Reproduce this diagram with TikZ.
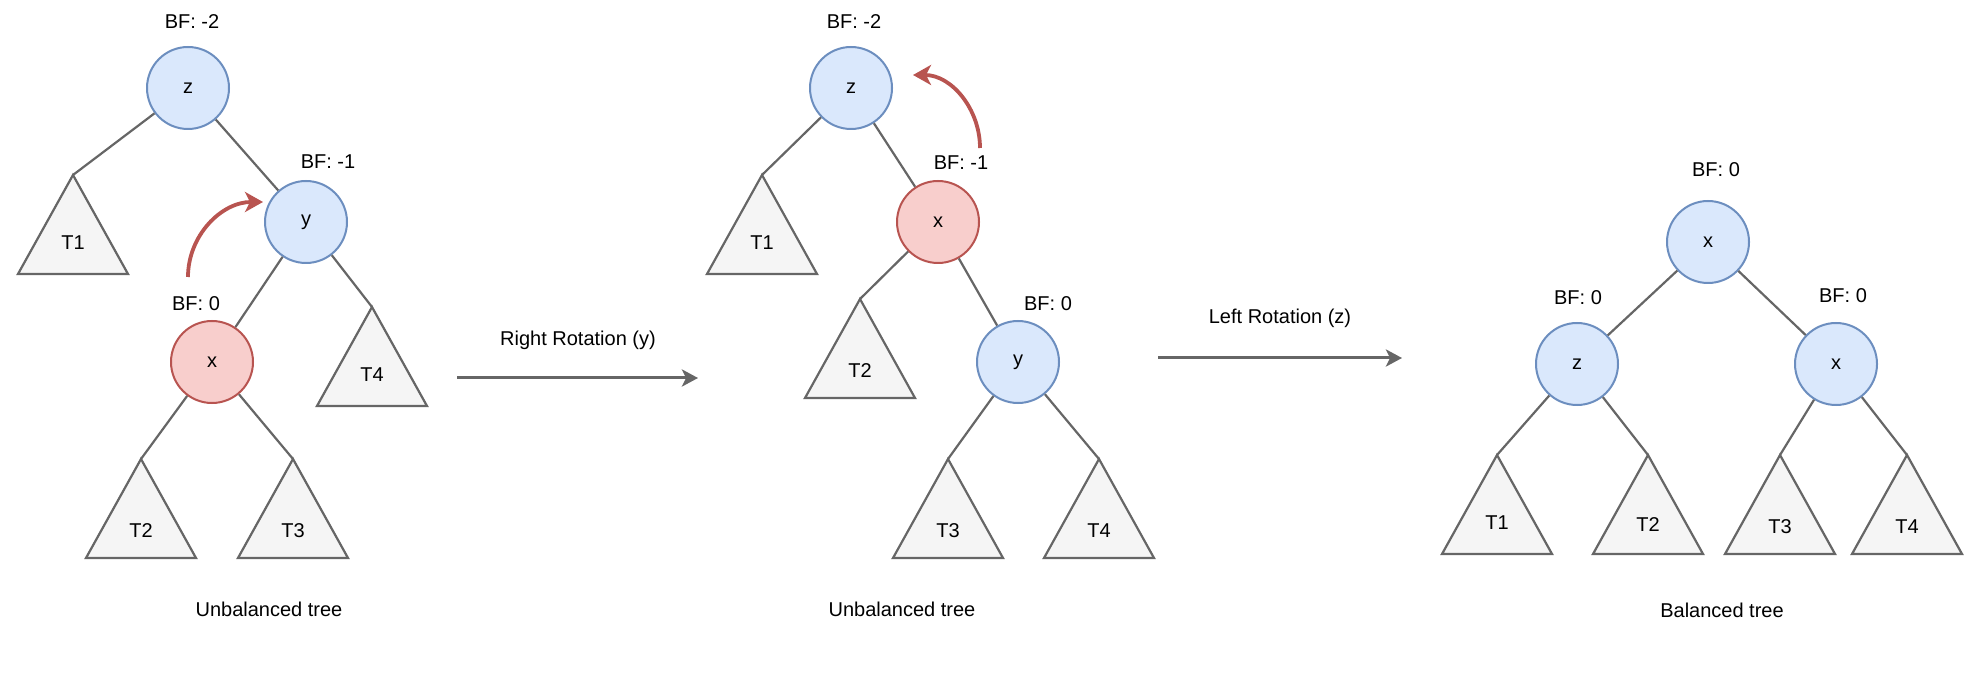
\documentclass[tikz,border=0pt]{standalone}
\usepackage{fontspec}
\setmainfont{Liberation Sans}
\usepackage{xcolor}
\usetikzlibrary{
    arrows.meta,
    calc,
    positioning
}

\definecolor{keyFill}{HTML}{DAE8FC}
\definecolor{keyLine}{HTML}{6C8EBF}
\definecolor{hotFill}{HTML}{F8CECC}
\definecolor{hotLine}{HTML}{B85450}
\definecolor{treeFill}{HTML}{F5F5F5}
\definecolor{treeLine}{HTML}{666666}

\tikzset{
    key/.style={circle, draw=keyLine, fill=keyFill, line width=1pt, minimum size=41pt, inner sep=0pt},
    hot/.style={key, draw=hotLine, fill=hotFill},
    branch/.style={draw=treeLine, line width=1.1pt},
    subtree/.style={draw=treeLine, fill=treeFill, line width=1.1pt},
    pivotarrow/.style={draw=hotLine, line width=1.9pt, -{Stealth[length=9pt, width=10pt, inset=2.5pt]}},
    rotarrow/.style={draw=treeLine, line width=1.5pt, -{Stealth[length=8pt, width=8.5pt, inset=2pt]}}
}

\begin{document}
\begin{tikzpicture}[x=0.5pt, y=-0.5pt, font=\fontsize{10}{12}\selectfont]
    \useasboundingbox (0, 0) rectangle (1980, 678);
    % unbalanced tree, before the right rotation
    \begin{scope}[shift={(188, 88)}]
        \node[key] (lz) at (0, 0) {z};
        \node (lzbf) at (4, -66) {BF: -2};
        \node[key] (ly) at (118, 134) {y};
        \node (lybf) at (140, 74) {BF: -1};
        \node[hot] (lx) at (24, 274) {x};
        \node (lxbf) at (8, 216) {BF: 0};
        \coordinate (lT1) at (-115, 87);
        \coordinate (lT4) at (184, 219);
        \coordinate (lT2) at (-47, 371);
        \coordinate (lT3) at (105, 371);
        \draw[subtree] (lT1) -- ++(55, 99) -- ++(-110, 0) -- cycle;
        \draw[subtree] (lT4) -- ++(55, 99) -- ++(-110, 0) -- cycle;
        \draw[subtree] (lT2) -- ++(55, 99) -- ++(-110, 0) -- cycle;
        \draw[subtree] (lT3) -- ++(55, 99) -- ++(-110, 0) -- cycle;
        \node (lT1text) at ([yshift=-34pt]lT1) {T1};
        \node (lT4text) at ([yshift=-34pt]lT4) {T4};
        \node (lT2text) at ([yshift=-36pt]lT2) {T2};
        \node (lT3text) at ([yshift=-36pt]lT3) {T3};
        \draw[branch]
        (lz) -- (lT1)
        (lz) -- (ly)
        (ly) -- (lx)
        (ly) -- (lT4)
        (lx) -- (lT2)
        (lx) -- (lT3);
        \coordinate (lpivotA) at (0, 189);
        \coordinate (lpivotB) at (75, 114);
        \draw[pivotarrow] (lpivotA) to[out=90, in=180] (lpivotB);
    \end{scope}
    % unbalanced tree, before the left rotation
    \begin{scope}[shift={(851, 88)}]
        \node[key] (mz) at (0, 0) {z};
        \node (mzbf) at (3, -66) {BF: -2};
        \node[hot] (mx) at (87, 134) {x};
        \node (mxbf) at (110, 75) {BF: -1};
        \node[key] (my) at (167, 274) {y};
        \node (mybf) at (197, 216) {BF: 0};
        \coordinate (mT1) at (-89, 87);
        \coordinate (mT2) at (9, 211);
        \coordinate (mT3) at (97, 371);
        \coordinate (mT4) at (248, 371);
        \draw[subtree] (mT1) -- ++(55, 99) -- ++(-110, 0) -- cycle;
        \draw[subtree] (mT2) -- ++(55, 99) -- ++(-110, 0) -- cycle;
        \draw[subtree] (mT3) -- ++(55, 99) -- ++(-110, 0) -- cycle;
        \draw[subtree] (mT4) -- ++(55, 99) -- ++(-110, 0) -- cycle;
        \node (mT1text) at ([yshift=-34pt]mT1) {T1};
        \node (mT2text) at ([yshift=-36pt]mT2) {T2};
        \node (mT3text) at ([yshift=-36pt]mT3) {T3};
        \node (mT4text) at ([yshift=-36pt]mT4) {T4};
        \draw[branch]
        (mz) -- (mT1)
        (mz) -- (mx)
        (mx) -- (mT2)
        (mx) -- (my)
        (my) -- (mT3)
        (my) -- (mT4);
        \coordinate (mpivotA) at (129, 60);
        \coordinate (mpivotB) at (62, -13);
        \draw[pivotarrow] (mpivotA) to[out=90, in=0] (mpivotB);
    \end{scope}
    % balanced tree
    \begin{scope}[shift={(1708, 242)}]
        \node[key] (rx) at (0, 0) {x};
        \node (rxbf) at (8, -72) {BF: 0};
        \node[key] (rz) at (-131, 122) {z};
        \node (rzbf) at (-130, 56) {BF: 0};
        \node[key] (rxr) at (128, 122) {x};
        \node (rxrbf) at (135, 54) {BF: 0};
        \coordinate (rT1) at (-211, 213);
        \coordinate (rT2) at (-60, 213);
        \coordinate (rT3) at (72, 213);
        \coordinate (rT4) at (199, 213);
        \draw[subtree] (rT1) -- ++(55, 99) -- ++(-110, 0) -- cycle;
        \draw[subtree] (rT2) -- ++(55, 99) -- ++(-110, 0) -- cycle;
        \draw[subtree] (rT3) -- ++(55, 99) -- ++(-110, 0) -- cycle;
        \draw[subtree] (rT4) -- ++(55, 99) -- ++(-110, 0) -- cycle;
        \node (rT1text) at ([yshift=-34pt]rT1) {T1};
        \node (rT2text) at ([yshift=-35pt]rT2) {T2};
        \node (rT3text) at ([yshift=-36pt]rT3) {T3};
        \node (rT4text) at ([yshift=-36pt]rT4) {T4};
        \draw[branch]
        (rx) -- (rz)
        (rx) -- (rxr)
        (rz) -- (rT1)
        (rz) -- (rT2)
        (rxr) -- (rT3)
        (rxr) -- (rT4);
    \end{scope}
    % captions and rotations
    \node (lcap) at (269, 609) {Unbalanced tree};
    \node (mcap) at (902, 609) {Unbalanced tree};
    \node (rcap) at (1722, 610) {Balanced tree};
    \coordinate (rightA) at (457, 378);
    \coordinate (rightB) at (698, 378);
    \node (righttext) at (578, 340) {Right Rotation (y)};
    \draw[rotarrow] (rightA) -- (rightB);
    \coordinate (leftA) at (1158, 358);
    \coordinate (leftB) at (1402, 358);
    \node (lefttext) at (1280, 318) {Left Rotation (z)};
    \draw[rotarrow] (leftA) -- (leftB);
\end{tikzpicture}
\end{document}
